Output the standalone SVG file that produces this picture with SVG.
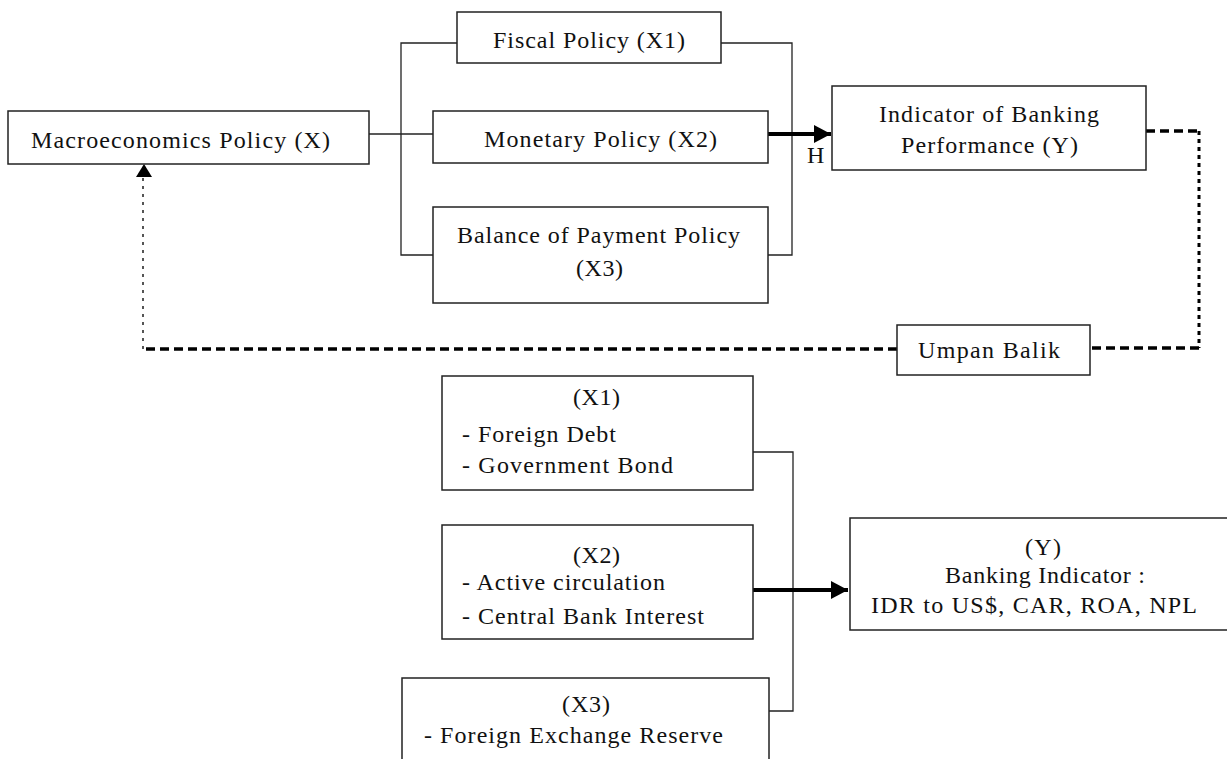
<svg xmlns="http://www.w3.org/2000/svg" width="1227" height="759" viewBox="0 0 1227 759">
<style>
.box{fill:#fff;stroke:#222;stroke-width:1.5}
.t{font-family:"Liberation Serif","Times New Roman",serif;font-size:24px;fill:#111}
.ln{fill:none;stroke:#222;stroke-width:1.3}
.thick{fill:none;stroke:#000;stroke-width:4}
.dash{fill:none;stroke:#000;stroke-width:3.5;stroke-dasharray:9 5}
.dashr{fill:none;stroke:#000;stroke-width:3;stroke-dasharray:4 4}
.dashv{fill:none;stroke:#555;stroke-width:2;stroke-dasharray:3 5}
</style>
<defs>
<marker id="ah" markerUnits="userSpaceOnUse" markerWidth="20" markerHeight="20" refX="17" refY="9" orient="auto">
<path d="M0,0 L17,9 L0,18 Z" fill="#000"/>
</marker>
</defs>
<rect width="1227" height="759" fill="#fff"/>
<g id="connectors">
<path class="ln" d="M369,134 H433"/>
<path class="ln" d="M457,43 H401 V255 H433"/>
<path class="ln" d="M721,43 H792 V255 H768"/>
<path class="thick" d="M768,134 H831" marker-end="url(#ah)"/>
<path class="dash" d="M1146,131 H1199"/>
<path class="dashr" d="M1199,131 V348"/>
<path class="dash" d="M1199,348 H1090"/>
<path class="dash" d="M897,349 H143"/>
<path class="dashv" d="M143,349 V177"/>
<path d="M144,164 L136,177 L152,177 Z" fill="#000"/>
<path class="ln" d="M753,452 H793 V711 H769"/>
<path class="thick" d="M753,590 H848" marker-end="url(#ah)"/>
</g>
<g id="macro">
<rect class="box" x="8" y="111" width="361" height="53"/>
<text class="t" x="31" y="148" textLength="299" lengthAdjust="spacing">Macroeconomics Policy (X)</text>
</g>
<g id="fiscal">
<rect class="box" x="457" y="12" width="264" height="51"/>
<text class="t" x="493" y="48" textLength="192" lengthAdjust="spacing">Fiscal Policy (X1)</text>
</g>
<g id="monetary">
<rect class="box" x="433" y="111" width="335" height="52"/>
<text class="t" x="484" y="147" textLength="233" lengthAdjust="spacing">Monetary Policy (X2)</text>
</g>
<g id="balance">
<rect class="box" x="433" y="207" width="335" height="96"/>
<text class="t" x="457" y="243" textLength="283" lengthAdjust="spacing">Balance of Payment Policy</text>
<text class="t" x="576" y="276" textLength="47" lengthAdjust="spacing">(X3)</text>
</g>
<g id="label-h">
<text class="t" x="807" y="163">H</text>
</g>
<g id="indicator">
<rect class="box" x="832" y="86" width="314" height="84"/>
<text class="t" x="879" y="122" textLength="220" lengthAdjust="spacing">Indicator of Banking</text>
<text class="t" x="901" y="153" textLength="177" lengthAdjust="spacing">Performance (Y)</text>
</g>
<g id="umpan">
<rect class="box" x="897" y="325" width="193" height="50"/>
<text class="t" x="918" y="358" textLength="142" lengthAdjust="spacing">Umpan Balik</text>
</g>
<g id="x1">
<rect class="box" x="442" y="376" width="311" height="114"/>
<text class="t" x="573" y="405" textLength="47" lengthAdjust="spacing">(X1)</text>
<text class="t" x="462" y="442" textLength="154" lengthAdjust="spacing">- Foreign Debt</text>
<text class="t" x="462" y="473" textLength="211" lengthAdjust="spacing">- Government Bond</text>
</g>
<g id="x2">
<rect class="box" x="442" y="525" width="311" height="114"/>
<text class="t" x="573" y="563" textLength="47" lengthAdjust="spacing">(X2)</text>
<text class="t" x="462" y="590" textLength="203" lengthAdjust="spacing">- Active circulation</text>
<text class="t" x="462" y="624" textLength="242" lengthAdjust="spacing">- Central Bank Interest</text>
</g>
<g id="x3">
<rect class="box" x="402" y="678" width="367" height="100"/>
<text class="t" x="562" y="712" textLength="48" lengthAdjust="spacing">(X3)</text>
<text class="t" x="424" y="743" textLength="299" lengthAdjust="spacing">- Foreign Exchange Reserve</text>
</g>
<g id="y">
<rect class="box" x="850" y="518" width="390" height="112"/>
<text class="t" x="1025" y="555" textLength="36" lengthAdjust="spacing">(Y)</text>
<text class="t" x="945" y="583" textLength="200" lengthAdjust="spacing">Banking Indicator :</text>
<text class="t" x="871" y="613" textLength="326" lengthAdjust="spacing">IDR to US$, CAR, ROA, NPL</text>
</g>
</svg>
